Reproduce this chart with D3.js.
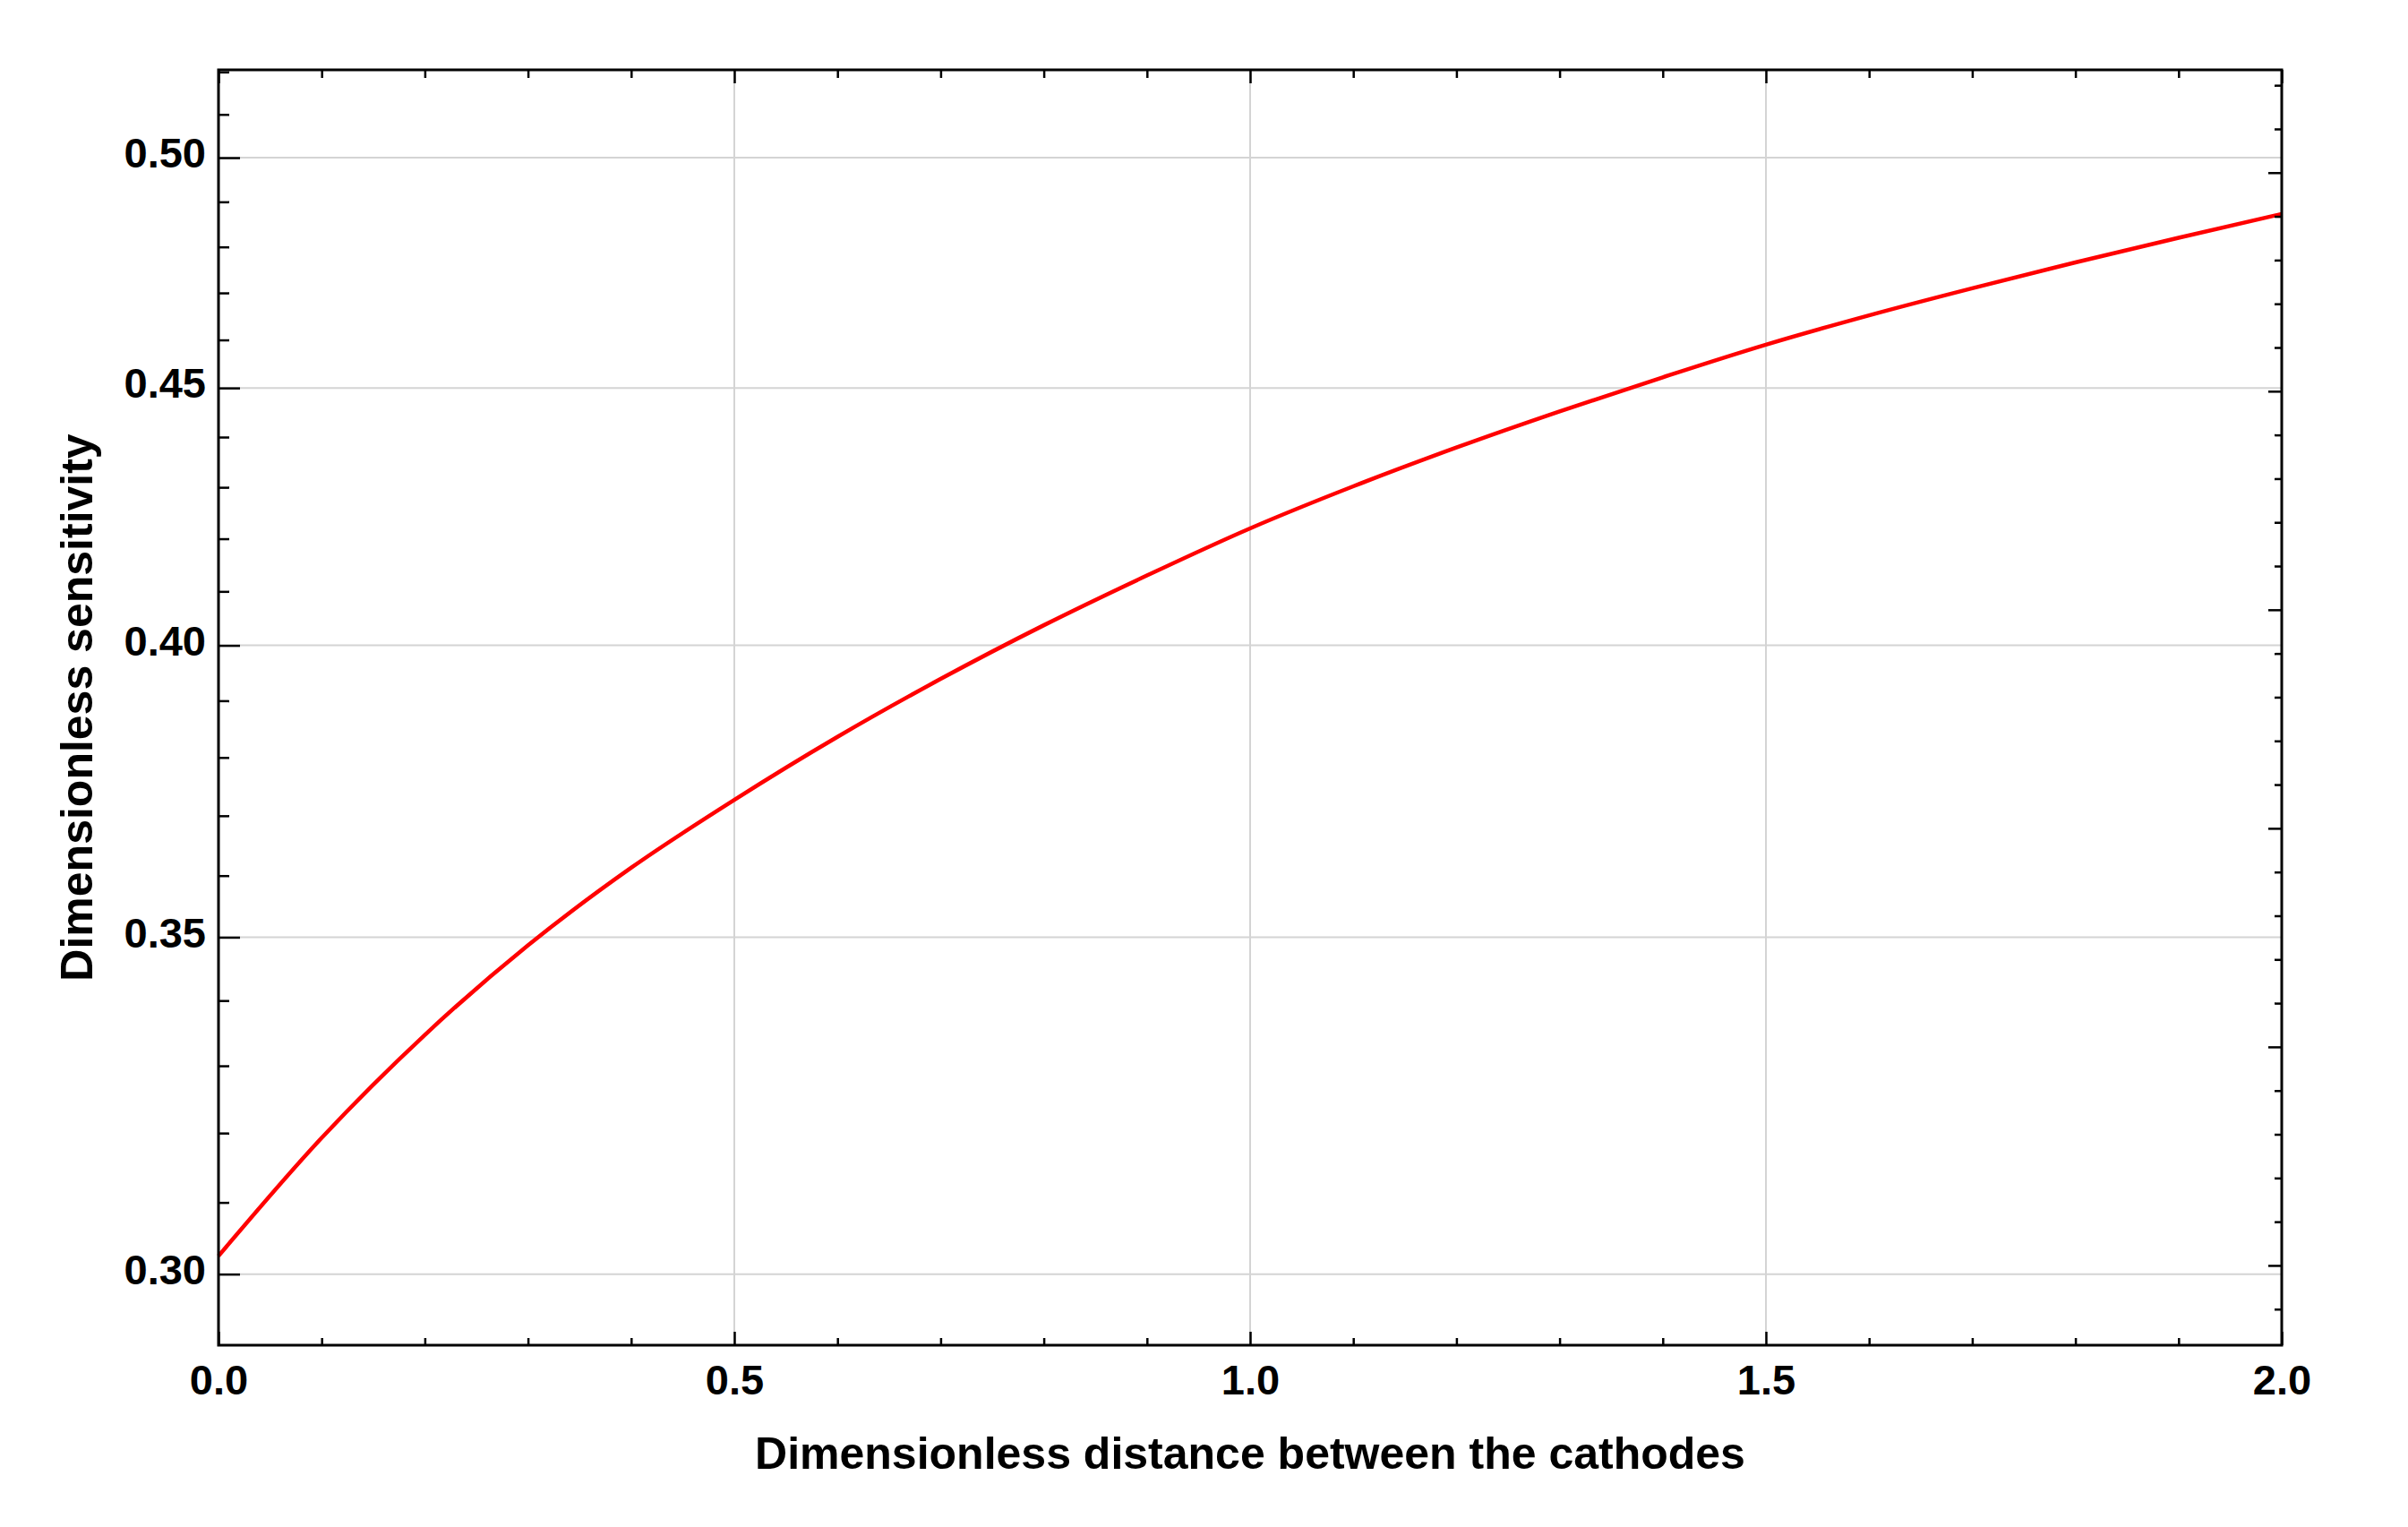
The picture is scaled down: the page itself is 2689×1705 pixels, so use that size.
<!DOCTYPE html>
<html>
<head>
<meta charset="utf-8">
<script src="https://cdn.jsdelivr.net/npm/d3@7"></script>
<style>
  html, body { margin: 0; padding: 0; background: #ffffff; }
  svg { display: block; }
  text { font-family: "Liberation Sans", Arial, sans-serif; font-weight: bold; fill: #000; }
</style>
</head>
<body>
<script>
// ---- data ----
const distance = [0.0, 0.1, 0.2, 0.3, 0.4, 0.5, 0.6, 0.7, 0.8, 0.9, 1.0,
                  1.1, 1.2, 1.3, 1.4, 1.5, 1.6, 1.7, 1.8, 1.9, 2.0];
const sensitivity = [0.3025, 0.3193, 0.3347, 0.3487, 0.3613, 0.3727, 0.3836, 0.3939, 0.4037, 0.4130, 0.4220,
                     0.4302, 0.4379, 0.4452, 0.4522, 0.4590, 0.4652, 0.4710, 0.4766, 0.4820, 0.4873];
const xMajorTicks = [0.0, 0.5, 1.0, 1.5, 2.0];
const yMajorTicks = [0.30, 0.35, 0.40, 0.45, 0.50];
const rightMajorLogTicks = [-1.2, -1.1, -1.0, -0.9, -0.8, -0.7];
const xTitle = "Dimensionless distance between the cathodes";
const yTitle = "Dimensionless sensitivity";
const xDomain = [0, 2];
const yDomain = [0.2904, 0.5205];

// ---- layout ----
const W = 2689, H = 1705;
const mLeft = 244, mRight = 2548, mTop = 78, mBottom = 1502;

const svg = d3.select("body").append("svg").attr("width", W).attr("height", H);

const x = d3.scaleLinear().domain(xDomain).range([mLeft, mRight]);
const y = d3.scaleLog().domain(yDomain).range([mBottom, mTop]);

const xMinorTicks = d3.range(0, 21, 1).map(d => d / 10).filter(d => !xMajorTicks.some(m => Math.abs(m - d) < 1e-9));
const yMinorTicks = d3.range(29, 53, 1).map(d => d / 100)
  .filter(d => d >= yDomain[0] && d <= yDomain[1] && !yMajorTicks.some(m => Math.abs(m - d) < 1e-9));
const rightMinorLogTicks = d3.range(-124, -64, 2).map(d => d / 100)
  .filter(d => Math.exp(d) >= yDomain[0] && Math.exp(d) <= yDomain[1] && !rightMajorLogTicks.some(m => Math.abs(m - d) < 1e-9));

// ---- grid ----
const grid = svg.append("g").attr("stroke", "#d4d4d4").attr("stroke-width", 2);
grid.selectAll("line.gx").data(xMajorTicks.filter(d => d > xDomain[0] && d < xDomain[1])).join("line")
  .attr("class", "gx")
  .attr("x1", d => x(d)).attr("x2", d => x(d)).attr("y1", mTop).attr("y2", mBottom);
grid.selectAll("line.gy").data(yMajorTicks).join("line")
  .attr("class", "gy")
  .attr("x1", mLeft).attr("x2", mRight).attr("y1", d => y(d)).attr("y2", d => y(d));

// ---- curve ----
const line = d3.line().x((d, i) => x(distance[i])).y(d => y(d)).curve(d3.curveMonotoneX);
svg.append("path").datum(sensitivity)
  .attr("d", line).attr("fill", "none").attr("stroke", "#ff0000").attr("stroke-width", 4.5)
  .attr("stroke-linejoin", "round");

// ---- axes ----
function styleAxis(g) {
  g.select(".domain").remove();
  g.selectAll(".tick line").attr("stroke", "#000").attr("stroke-width", 2.5);
}
const fontTick = 47;

// left major
const gLeft = svg.append("g").attr("transform", `translate(${mLeft},0)`)
  .call(d3.axisLeft(y).tickValues(yMajorTicks).tickSizeInner(-24).tickSizeOuter(0).tickPadding(14)
    .tickFormat(d3.format(".2f")));
styleAxis(gLeft);
gLeft.selectAll(".tick text").attr("font-size", fontTick).attr("dy", "0.23em")
  .attr("font-family", "Liberation Sans, Arial, sans-serif").attr("font-weight", "bold").attr("fill", "#000");
// left minor
const gLeftMinor = svg.append("g").attr("transform", `translate(${mLeft},0)`)
  .call(d3.axisLeft(y).tickValues(yMinorTicks).tickSizeInner(-12).tickSizeOuter(0).tickFormat(""));
styleAxis(gLeftMinor);

// right (log-value ticks)
const gRight = svg.append("g").attr("transform", `translate(${mRight},0)`)
  .call(d3.axisLeft(y).tickValues(rightMajorLogTicks.map(Math.exp)).tickSizeInner(15).tickSizeOuter(0).tickFormat(""));
styleAxis(gRight);
const gRightMinor = svg.append("g").attr("transform", `translate(${mRight},0)`)
  .call(d3.axisLeft(y).tickValues(rightMinorLogTicks.map(Math.exp)).tickSizeInner(8).tickSizeOuter(0).tickFormat(""));
styleAxis(gRightMinor);

// bottom
const gBottom = svg.append("g").attr("transform", `translate(0,${mBottom})`)
  .call(d3.axisBottom(x).tickValues(xMajorTicks).tickSizeInner(-15).tickSizeOuter(0).tickPadding(22)
    .tickFormat(d3.format(".1f")));
styleAxis(gBottom);
gBottom.selectAll(".tick text").attr("font-size", fontTick)
  .attr("font-family", "Liberation Sans, Arial, sans-serif").attr("font-weight", "bold").attr("fill", "#000");
const gBottomMinor = svg.append("g").attr("transform", `translate(0,${mBottom})`)
  .call(d3.axisBottom(x).tickValues(xMinorTicks).tickSizeInner(-8).tickSizeOuter(0).tickFormat(""));
styleAxis(gBottomMinor);

// top
const gTop = svg.append("g").attr("transform", `translate(0,${mTop})`)
  .call(d3.axisTop(x).tickValues(xMajorTicks).tickSizeInner(-15).tickSizeOuter(0).tickFormat(""));
styleAxis(gTop);
const gTopMinor = svg.append("g").attr("transform", `translate(0,${mTop})`)
  .call(d3.axisTop(x).tickValues(xMinorTicks).tickSizeInner(-9).tickSizeOuter(0).tickFormat(""));
styleAxis(gTopMinor);

// frame
svg.append("rect").attr("x", mLeft).attr("y", mTop).attr("width", mRight - mLeft).attr("height", mBottom - mTop)
  .attr("fill", "none").attr("stroke", "#000").attr("stroke-width", 3);

// titles
svg.append("text").attr("x", (mLeft + mRight) / 2).attr("y", 1640).attr("text-anchor", "middle")
  .attr("font-size", 50).text(xTitle);
svg.append("text").attr("transform", `translate(103,${(mTop + mBottom) / 2}) rotate(-90)`)
  .attr("text-anchor", "middle").attr("font-size", 50).text(yTitle);
</script>
</body>
</html>
